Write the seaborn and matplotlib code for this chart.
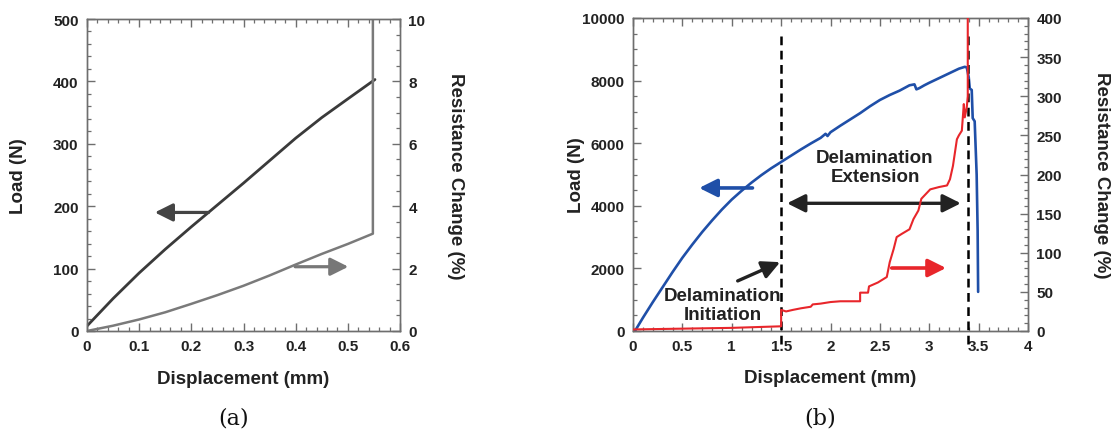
import matplotlib
matplotlib.use("Agg")
import matplotlib.pyplot as plt
import seaborn as sns
from matplotlib.ticker import MultipleLocator, FuncFormatter

# ---------- data ----------
# (a) small specimen
a_disp_load = [0.0, 0.05, 0.1, 0.15, 0.2, 0.25, 0.3, 0.35, 0.4, 0.45, 0.5, 0.552]
a_load = [8, 52, 93, 131, 167, 202, 237, 273, 309, 342, 372, 403]
a_disp_res = [0.0, 0.05, 0.1, 0.15, 0.2, 0.25, 0.3, 0.35, 0.4, 0.45, 0.5, 0.548, 0.548]
a_res = [0.0, 0.17, 0.37, 0.6, 0.87, 1.15, 1.45, 1.78, 2.13, 2.47, 2.79, 3.12, 10.5]

# (b) large specimen
b_disp_load = [0.02, 0.1, 0.2, 0.3, 0.4, 0.5, 0.6, 0.7, 0.8, 0.9, 1.0, 1.1, 1.2, 1.3,
               1.4, 1.5, 1.6, 1.7, 1.8, 1.9, 1.95, 1.97, 2.0, 2.1, 2.2, 2.3, 2.4, 2.5,
               2.6, 2.7, 2.8, 2.85, 2.87, 2.9, 2.95, 3.0, 3.1, 3.2, 3.3, 3.36, 3.38,
               3.4, 3.41, 3.43, 3.44, 3.46, 3.48, 3.49, 3.495]
b_load = [0, 420, 920, 1400, 1880, 2340, 2760, 3160, 3530, 3880, 4200, 4480, 4740, 4980,
          5200, 5400, 5600, 5800, 5990, 6170, 6300, 6230, 6350, 6560, 6760, 6960, 7180, 7380,
          7540, 7680, 7850, 7880, 7720, 7760, 7850, 7930, 8080, 8230, 8380, 8440, 8420,
          8100, 7750, 7700, 6800, 6700, 5000, 3200, 1250]
b_disp_res = [0.0, 0.5, 1.0, 1.5, 1.5, 1.55, 1.62, 1.7, 1.8, 1.82, 1.9, 2.0, 2.1, 2.2,
              2.3, 2.3, 2.38, 2.39, 2.48, 2.57, 2.6, 2.64, 2.67, 2.72, 2.8, 2.84, 2.89,
              2.92, 3.01, 3.1, 3.18, 3.21, 3.24, 3.28, 3.3, 3.33, 3.35, 3.36, 3.38, 3.39, 3.39]
b_res = [2, 3, 4, 6, 27, 25, 27, 29, 31, 34, 35, 37, 38, 38,
         38, 49, 49, 57, 62, 69, 88, 105, 120, 124, 130, 143, 154,
         169, 181, 184, 186, 194, 211, 245, 250, 256, 290, 273, 286, 300, 430]

initiation_x = 1.5
extension_end_x = 3.39

# ---------- style ----------
sns.set_theme(style="ticks")
plt.rcParams["font.family"] = ["Liberation Sans", "DejaVu Sans"]
plt.rcParams["font.weight"] = "bold"
plt.rcParams["axes.labelweight"] = "bold"

spine_col = "#6e6e6e"
txt_col = "#222222"
tick_font = 11
label_font = 13.5

fig = plt.figure(figsize=(11.18, 4.35), dpi=100)


def style_axes(ax, twin):
    for a in (ax, twin):
        for s in a.spines.values():
            s.set_color(spine_col)
            s.set_linewidth(1.0)
    ax.tick_params(axis="x", which="both", direction="in", top=True, bottom=True,
                   colors=spine_col, labelcolor=txt_col, labelsize=tick_font, pad=6)
    ax.tick_params(axis="y", which="both", direction="in", left=True, right=False,
                   colors=spine_col, labelcolor=txt_col, labelsize=tick_font, pad=6)
    twin.tick_params(axis="y", which="both", direction="in", right=True, left=False,
                     colors=spine_col, labelcolor=txt_col, labelsize=tick_font, pad=6)
    for a in (ax, twin):
        a.tick_params(which="major", length=5.5, width=1)
        a.tick_params(which="minor", length=3, width=0.9)
    for lab in ax.get_xticklabels() + ax.get_yticklabels() + twin.get_yticklabels():
        lab.set_fontweight("bold")


def arrow(ax, tail, head, color, style="-|>", lw=2.3):
    ax.annotate("", xy=head, xytext=tail,
                arrowprops=dict(arrowstyle=style + ",head_length=0.9,head_width=0.45",
                                color=color, lw=lw, shrinkA=0, shrinkB=0,
                                mutation_scale=12))


gfmt = FuncFormatter(lambda v, p: f"{v:g}")

# ---------- (a) ----------
ax1 = fig.add_axes([87 / 1118, 103 / 435, 313 / 1118, 312 / 435])
ax1r = ax1.twinx()
sns.lineplot(x=a_disp_load, y=a_load, ax=ax1, color="#3a3a3a", lw=2.0,
             sort=False, estimator=None)
sns.lineplot(x=a_disp_res, y=a_res, ax=ax1r, color="#7a7a7a", lw=1.8,
             sort=False, estimator=None)
ax1.set_xlim(0, 0.6)
ax1.set_ylim(0, 500)
ax1r.set_ylim(0, 10)
ax1.xaxis.set_major_locator(MultipleLocator(0.1))
ax1.xaxis.set_minor_locator(MultipleLocator(0.02))
ax1.yaxis.set_major_locator(MultipleLocator(100))
ax1.yaxis.set_minor_locator(MultipleLocator(20))
ax1r.yaxis.set_major_locator(MultipleLocator(2))
ax1r.yaxis.set_minor_locator(MultipleLocator(0.5))
ax1.xaxis.set_major_formatter(gfmt)
style_axes(ax1, ax1r)

ax1.set_xlabel("Displacement (mm)", fontsize=label_font, color=txt_col, va="center")
ax1.set_ylabel("Load (N)", fontsize=label_font, color=txt_col, va="center")
ax1r.set_ylabel("Resistance Change (%)", fontsize=label_font, color=txt_col,
                rotation=270, va="center")
ax1.xaxis.set_label_coords(0.5, -0.152)
ax1.yaxis.set_label_coords(-0.22, 0.5)
ax1r.yaxis.set_label_coords(1.176, 0.5)

arrow(ax1, (0.233, 190), (0.130, 190), "#444444")
arrow(ax1, (0.399, 103), (0.501, 103), "#777777")

# ---------- (b) ----------
ax2 = fig.add_axes([633 / 1118, 103 / 435, 395 / 1118, 313 / 435])
ax2r = ax2.twinx()
sns.lineplot(x=b_disp_load, y=b_load, ax=ax2, color="#1f4fa8", lw=1.9,
             sort=False, estimator=None)
for xv in (initiation_x, extension_end_x):
    ax2r.plot([xv, xv], [-0.04, 0.947], transform=ax2r.get_xaxis_transform(),
              color="black", lw=1.8, ls=(0, (3.5, 2.2)), clip_on=False, zorder=1)
sns.lineplot(x=b_disp_res, y=b_res, ax=ax2r, color="#e8262b", lw=1.5,
             sort=False, estimator=None, zorder=3)
ax2.set_xlim(0, 4)
ax2.set_ylim(0, 10000)
ax2r.set_ylim(0, 400)
ax2.xaxis.set_major_locator(MultipleLocator(0.5))
ax2.xaxis.set_minor_locator(MultipleLocator(0.1))
ax2.yaxis.set_major_locator(MultipleLocator(2000))
ax2.yaxis.set_minor_locator(MultipleLocator(500))
ax2r.yaxis.set_major_locator(MultipleLocator(50))
ax2r.yaxis.set_minor_locator(MultipleLocator(10))
ax2.xaxis.set_major_formatter(gfmt)
style_axes(ax2, ax2r)

ax2.set_xlabel("Displacement (mm)", fontsize=label_font, color=txt_col, va="center")
ax2.set_ylabel("Load (N)", fontsize=label_font, color=txt_col, va="center")
ax2r.set_ylabel("Resistance Change (%)", fontsize=label_font, color=txt_col,
                rotation=270, va="center")
ax2.xaxis.set_label_coords(0.5, -0.15)
ax2.yaxis.set_label_coords(-0.142, 0.5)
ax2r.yaxis.set_label_coords(1.187, 0.5)

arrow(ax2, (1.21, 4570), (0.67, 4570), "#1f4fa8", lw=2.6)
arrow(ax2r, (2.62, 80.5), (3.17, 80.5), "#e8262b", lw=2.6)
arrow(ax2, (1.56, 4080), (3.32, 4080), "#222222", style="<|-|>", lw=2.4)
arrow(ax2, (1.06, 1600), (1.49, 2200), "#222222", lw=2.4)

ax2.text(2.45, 5250, "Delamination\nExtension", ha="center", va="center",
         fontsize=label_font, fontweight="bold", color=txt_col, linespacing=1.15)
ax2.text(0.91, 820, "Delamination\nInitiation", ha="center", va="center",
         fontsize=label_font, fontweight="bold", color=txt_col, linespacing=1.15)

# ---------- panel letters ----------
fig.text(234 / 1118, 1 - 419 / 435, "(a)", ha="center", va="center",
         fontsize=16, family="DejaVu Serif", fontweight="normal", color="#111111")
fig.text(820 / 1118, 1 - 419 / 435, "(b)", ha="center", va="center",
         fontsize=16, family="DejaVu Serif", fontweight="normal", color="#111111")

fig.savefig("out.png", dpi=100)
